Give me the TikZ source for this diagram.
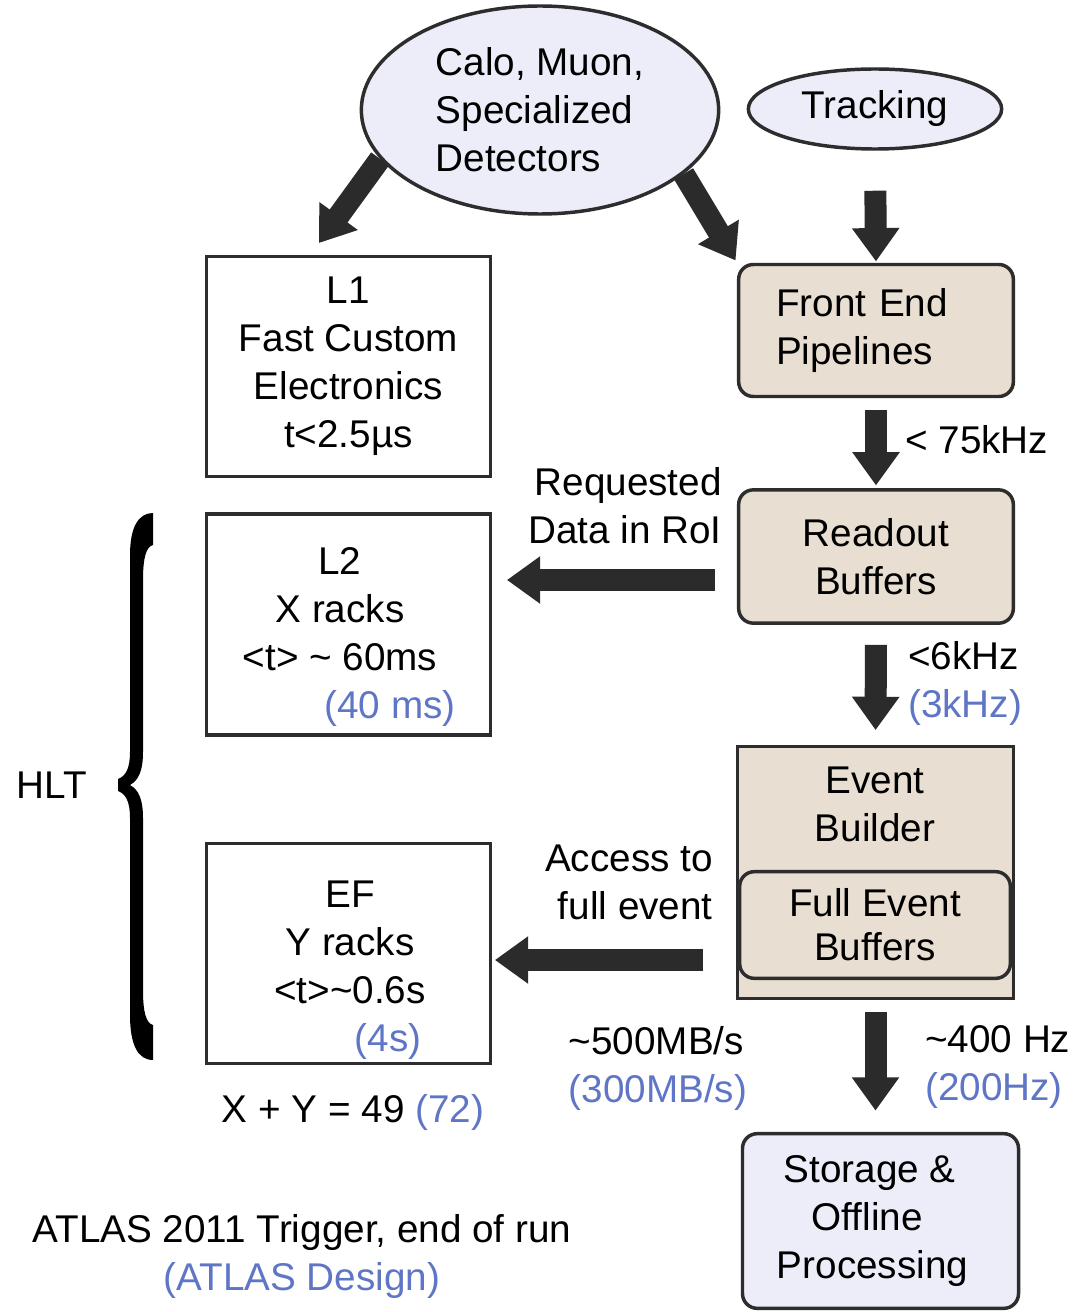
\documentclass[tikz,border=0pt]{standalone}
\usepackage{fontspec}
\setmainfont{Liberation Sans}
\usetikzlibrary{arrows.meta,shapes.geometric,backgrounds}
\definecolor{beige}{RGB}{232,223,210}
\definecolor{lav}{RGB}{236,237,248}
\definecolor{dblue}{RGB}{95,118,198}
\definecolor{edgec}{RGB}{45,45,45}
\definecolor{arrowc}{RGB}{43,43,43}
\begin{document}
\begin{tikzpicture}[x=0.75pt,y=-0.75pt,
  every node/.style={font=\fontsize{29pt}{36pt}\selectfont, text=black},
  box/.style={draw=edgec, line width=2.6pt, rectangle, inner sep=0pt, align=center},
  rbox/.style={box, rounded corners=11pt},
  ell/.style={draw=edgec, line width=2.6pt, ellipse, fill=lav, inner sep=0pt},
  bigarrow/.style={draw=arrowc, line width=16.5pt, -{Triangle[width=34pt,length=25pt]}},
  txt/.style={inner sep=0pt, align=center}
]
\useasboundingbox (0,0) rectangle (1078,1312);

% ellipses
\node[ell, minimum width=268pt, minimum height=156pt, align=left] (calo) at (540,110) {Calo, Muon,\\Specialized\\Detectors};
\node[ell, minimum width=190pt, minimum height=60pt] (trk) at (875,109) {Tracking};

% left boxes
\node[box, minimum width=213pt, minimum height=165pt] (l1) at (348.5,366.5) {L1\\Fast Custom\\Electronics\\t<2.5µs};
\node[box, minimum width=213pt, minimum height=166pt] (l2) at (348.5,624.5) {};
\node[txt] (l2t) at (340,637) {L2\\X racks\\<t> \textasciitilde{} 60ms\\\hspace*{75pt}\textcolor{dblue}{(40 ms)}};
\node[box, minimum width=213pt, minimum height=165pt] (ef) at (348.5,953.5) {};
\node[txt] (eft) at (350,970) {EF\\Y racks\\<t>\textasciitilde0.6s\\\hspace*{57pt}\textcolor{dblue}{(4s)}};

% right boxes
\node[rbox, fill=beige, minimum width=206pt, minimum height=99pt, text width=150pt, align=left] (fe) at (876,330.5) {Front End\\Pipelines};
\node[rbox, fill=beige, minimum width=206pt, minimum height=100pt] (rb) at (876,556.5) {Readout\\Buffers};
\node[box, fill=beige, minimum width=207pt, minimum height=189pt] (eb) at (875.5,872.5) {};
\node[txt] (ebt) at (875,804) {Event\\Builder};
\node[rbox, fill=beige, minimum width=203pt, minimum height=80pt, font=\fontsize{29pt}{33pt}\selectfont] (feb) at (875,925) {Full Event\\Buffers};
\node[rbox, fill=lav, minimum width=207pt, minimum height=131pt] (st) at (880.5,1221) {Storage \&\hspace*{16pt}\\\hspace*{-20pt}Offline\\Processing\hspace*{12pt}};

% labels
\node[txt, align=right, anchor=east] (req) at (722,506) {Requested\\Data in RoI};
\node[txt, anchor=west, align=left] (r75) at (905,440) {< 75kHz};
\node[txt, anchor=west, align=left] (r6) at (908,683) {<6kHz\\\textcolor{dblue}{(3kHz)}};
\node[txt, align=right, anchor=east] (acc) at (713,882) {Access to\\full event};
\node[txt, align=left] (mb) at (658,1068) {\textasciitilde500MB/s\\\textcolor{dblue}{(300MB/s)}};
\node[txt, anchor=west, align=left] (hz) at (925,1067) {\textasciitilde400 Hz\\\textcolor{dblue}{(200Hz)}};
\node[txt] (xy) at (353,1112) {X + Y = 49 \textcolor{dblue}{(72)}};
\node[txt] (atl) at (302,1256) {ATLAS 2011 Trigger, end of run\\\textcolor{dblue}{(ATLAS Design)}};
\node[txt] (hlt) at (52,785) {HLT};

% connector end points
\coordinate (l1tip) at (319,243);
\coordinate (rbout) at (715,580);
\coordinate (ebout) at (703,960);

\begin{scope}[on background layer]
\fill[white] (0,0) rectangle (1078,1312);
\draw[bigarrow] (calo.197) -- (l1tip);
\draw[bigarrow, shorten >=2pt] (calo.336) -- (fe.north west);
\end{scope}
\draw[bigarrow, shorten <=30pt, shorten >=1pt] (trk.south) -- (fe.north);
\draw[bigarrow, shorten <=9pt, shorten >=2pt] (fe.south) -- (rb.north);
\draw[bigarrow, shorten >=11pt] (rbout) -- (rbout -| l2.east);
\draw[bigarrow, shorten <=15pt, shorten >=11pt] (rb.south) -- (eb.north);
\draw[bigarrow, shorten >=2pt] (ebout) -- (ebout -| ef.east);
\draw[bigarrow, shorten <=9pt, shorten >=16pt] (eb.south) -- (eb.south |- st.north);

% HLT brace
\fill[black]
  (153,513) -- (153,545) .. controls (146,547) and (143,558) .. (143,580)
  -- (143,752) .. controls (143,770) and (139,780) .. (130,785)
  .. controls (139,790) and (143,800) .. (143,818)
  -- (143,990) .. controls (143,1012) and (146,1023) .. (153,1025)
  -- (153,1060) .. controls (138,1060) and (130,1045) .. (130,1015)
  -- (130,818) .. controls (130,802) and (126,794) .. (118,791)
  -- (118,779) .. controls (126,776) and (130,768) .. (130,752)
  -- (130,555) .. controls (130,528) and (138,513) .. (153,513) -- cycle;
\end{tikzpicture}
\end{document}
